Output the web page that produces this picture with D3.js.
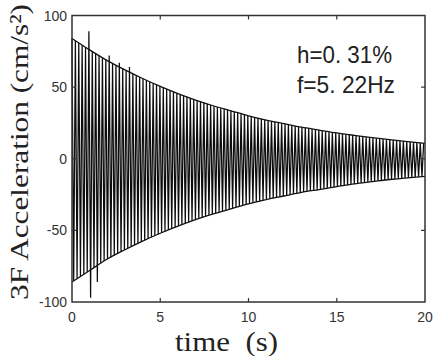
<!DOCTYPE html>
<html>
<head>
<meta charset="utf-8">
<script src="https://cdn.jsdelivr.net/npm/d3@7"></script>
<style>
  html, body { margin: 0; padding: 0; background: #fff; }
  svg { display: block; }
</style>
</head>
<body>
<div id="chart"></div>
<script>
// values
const ENV_TIME  = [0, 1, 2, 3, 4, 5, 6, 7, 8, 9, 10, 11, 12, 13, 14, 15, 16, 17, 18, 19, 20];
const ENV_UPPER = [84, 76, 68.5, 62, 56, 50.5, 45.5, 41, 37, 33.5, 30, 27, 24.5, 22, 20, 18, 16.3, 14.7, 13.3, 12, 10.8];
const ENV_LOWER = [-86, -78, -70, -63.5, -57.5, -52, -47, -42.5, -38.5, -35, -31.5, -28.5, -26, -23.5, -21.5, -19.5, -17.5, -16, -14.5, -13.3, -12.3];
const FREQ_HZ = 5.22;
const DAMPING_PCT = 0.31;
// odd peaks sticking out of the envelope
const SPIKES = [
  { t: 0.97, v: -97 }, { t: 1.02, v: 89 }, { t: 1.35, v: -86 },
  { t: 2.2, v: 72 }, { t: 2.7, v: 67 }, { t: 3.3, v: 64 }
];
const X_TICKS = [0, 5, 10, 15, 20];
const Y_TICKS = [-100, -50, 0, 50, 100];

const width = 433, height = 356;
const x = d3.scaleLinear().domain([0, 20]).range([72, 425]);
const y = d3.scaleLinear().domain([-100, 100]).range([302, 15.5]);

const upperAt = d3.scaleLinear().domain(ENV_TIME).range(ENV_UPPER);
const lowerAt = d3.scaleLinear().domain(ENV_TIME).range(ENV_LOWER);

const svg = d3.select("#chart").append("svg")
  .attr("width", width)
  .attr("height", height);

// signal: one peak every half period, alternating sides of the envelope
const halfPeriod = 1 / (2 * FREQ_HZ);
const peaks = d3.range(0, 20 + 1e-9, halfPeriod).map((t, k) => {
  const up = k % 2 === 0;
  let v = up ? upperAt(t) : lowerAt(t);
  const s = SPIKES.find(s => Math.abs(s.t - t) < halfPeriod && (s.v > 0) === up);
  if (s) v = s.v;
  return [t, v];
});

svg.append("path")
  .datum(peaks)
  .attr("fill", "none")
  .attr("stroke", "#0d0d0d")
  .attr("stroke-width", 1.25)
  .attr("d", d3.line().x(d => x(d[0])).y(d => y(d[1])));

// envelope curves
const envLine = d3.line()
  .curve(d3.curveMonotoneX)
  .x((d, i) => x(ENV_TIME[i]))
  .y(d => y(d));

[ENV_UPPER, ENV_LOWER].forEach(arr => {
  svg.append("path")
    .attr("fill", "none")
    .attr("stroke", "#111")
    .attr("stroke-width", 1.3)
    .attr("d", envLine(arr));
});

// frame
svg.append("rect")
  .attr("x", x(0)).attr("y", y(100))
  .attr("width", x(20) - x(0)).attr("height", y(-100) - y(100))
  .attr("fill", "none")
  .attr("stroke", "#333")
  .attr("stroke-width", 1.5);

// inward ticks on all four sides
const tk = 4;
const g = svg.append("g").attr("stroke", "#333").attr("stroke-width", 1.2);
X_TICKS.slice(1, -1).forEach(v => {
  g.append("line").attr("x1", x(v)).attr("x2", x(v)).attr("y1", y(-100)).attr("y2", y(-100) - tk);
  g.append("line").attr("x1", x(v)).attr("x2", x(v)).attr("y1", y(100)).attr("y2", y(100) + tk);
});
Y_TICKS.slice(1, -1).forEach(v => {
  g.append("line").attr("x1", x(0)).attr("x2", x(0) + tk).attr("y1", y(v)).attr("y2", y(v));
  g.append("line").attr("x1", x(20)).attr("x2", x(20) - tk).attr("y1", y(v)).attr("y2", y(v));
});

// tick labels
const tickFont = "'Liberation Sans', Arial, sans-serif";
svg.append("g").selectAll("text").data(Y_TICKS).join("text")
  .attr("x", x(0) - 5)
  .attr("y", d => y(d))
  .attr("dy", "0.36em")
  .attr("text-anchor", "end")
  .attr("font-family", tickFont)
  .attr("font-size", 14)
  .attr("fill", "#333")
  .text(d => d);

svg.append("g").selectAll("text").data(X_TICKS).join("text")
  .attr("x", d => x(d))
  .attr("y", 322)
  .attr("text-anchor", "middle")
  .attr("font-family", tickFont)
  .attr("font-size", 14)
  .attr("fill", "#333")
  .text(d => d);

// axis titles
const serif = "'Liberation Serif', 'Times New Roman', serif";
svg.append("text")
  .attr("x", 175).attr("y", 351)
  .attr("font-family", serif)
  .attr("font-size", 27)
  .attr("fill", "#222")
  .attr("textLength", 103)
  .attr("lengthAdjust", "spacingAndGlyphs")
  .style("white-space", "pre")
  .text("time  (s)");

svg.append("text")
  .attr("transform", "translate(28,300) rotate(-90)")
  .attr("font-family", serif)
  .attr("font-size", 26)
  .attr("fill", "#222")
  .attr("textLength", 296)
  .attr("lengthAdjust", "spacingAndGlyphs")
  .text("3F Acceleration (cm/s\u00B2)");

// annotation
const ann = svg.append("g")
  .attr("font-family", tickFont)
  .attr("font-size", 24)
  .attr("fill", "#222");
ann.append("text").attr("x", 297).attr("y", 63)
  .attr("textLength", 95).attr("lengthAdjust", "spacingAndGlyphs")
  .style("white-space", "pre")
  .text(`h=${String(DAMPING_PCT).replace(".", ". ")}%`);
ann.append("text").attr("x", 297).attr("y", 93)
  .attr("textLength", 98).attr("lengthAdjust", "spacingAndGlyphs")
  .style("white-space", "pre")
  .text(`f=${String(FREQ_HZ).replace(".", ". ")}Hz`);
</script>
</body>
</html>
